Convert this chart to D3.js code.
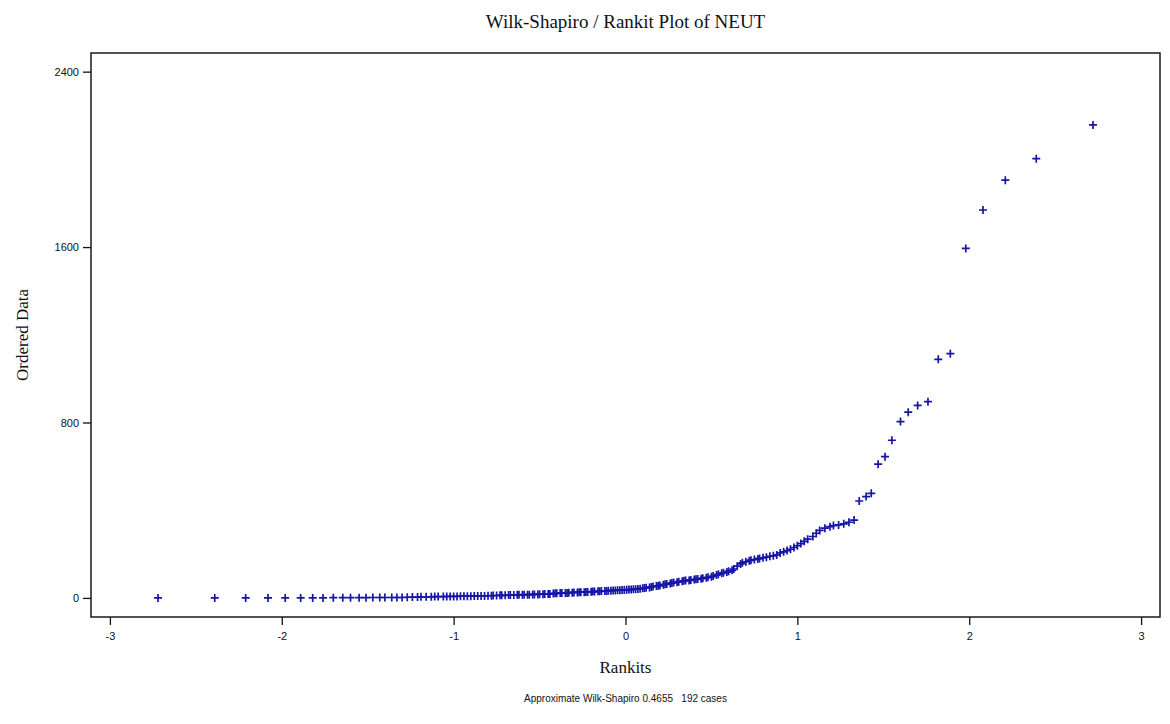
<!DOCTYPE html>
<html>
<head>
<meta charset="utf-8">
<script src="https://cdn.jsdelivr.net/npm/d3@7"></script>
<style>
	body { margin: 0; background: #fff; }
	svg { display: block; }
	.tick text { font-family: "Liberation Sans", Arial, sans-serif; font-size: 11px; fill: #111; }
	.tick line { stroke: #111; stroke-width: 1.3; }
</style>
</head>
<body>
<svg id="chart" width="1170" height="724"></svg>
<script>
// rankits (expected normal scores) for the 192 cases, ascending
const rankits = [
	-2.72, -2.39, -2.21, -2.08, -1.98, -1.89, -1.82, -1.76, -1.70, -1.645,
	-1.60, -1.55, -1.51, -1.47, -1.43, -1.40, -1.36, -1.33, -1.30, -1.27,
	-1.24, -1.21, -1.19, -1.16, -1.13, -1.11, -1.09, -1.06, -1.04, -1.02,
	-1.00, -0.98, -0.96, -0.94, -0.92, -0.90, -0.88, -0.86, -0.84, -0.82,
	-0.80, -0.78, -0.77, -0.75, -0.73, -0.72, -0.70, -0.68, -0.67, -0.65,
	-0.63, -0.62, -0.60, -0.59, -0.57, -0.56, -0.54, -0.53, -0.51, -0.50,
	-0.48, -0.47, -0.45, -0.44, -0.42, -0.41, -0.40, -0.38, -0.37, -0.35,
	-0.34, -0.33, -0.31, -0.30, -0.28, -0.27, -0.26, -0.24, -0.23, -0.22,
	-0.20, -0.19, -0.18, -0.16, -0.15, -0.14, -0.12, -0.11, -0.10, -0.085,
	-0.072, -0.059, -0.046, -0.033, -0.020, -0.007,
	0.007, 0.020, 0.033, 0.046, 0.059, 0.072, 0.085, 0.10, 0.11, 0.12,
	0.14, 0.15, 0.16, 0.18, 0.19, 0.20, 0.22, 0.23, 0.24, 0.26,
	0.27, 0.28, 0.30, 0.31, 0.33, 0.34, 0.35, 0.37, 0.38, 0.40,
	0.41, 0.42, 0.44, 0.45, 0.47, 0.48, 0.50, 0.51, 0.53, 0.54,
	0.56, 0.57, 0.59, 0.60, 0.62, 0.63, 0.65, 0.67, 0.68, 0.70,
	0.72, 0.73, 0.75, 0.77, 0.78, 0.80, 0.82, 0.84, 0.86, 0.88,
	0.90, 0.92, 0.94, 0.96, 0.98, 1.00, 1.02, 1.04, 1.06, 1.09,
	1.11, 1.13, 1.16, 1.19, 1.21, 1.24, 1.27, 1.30, 1.33, 1.36,
	1.40, 1.43, 1.47, 1.51, 1.55, 1.60, 1.645, 1.70, 1.76, 1.82,
	1.89, 1.98, 2.08, 2.21, 2.39, 2.72
];

// ordered NEUT values, same order as rankits
const orderedData = [
	0, 0, 0, 0, 0, 0, 0, 0, 1, 1,
	1, 1, 1, 2, 2, 2, 2, 2, 2, 3,
	4, 4, 5, 5, 5, 6, 6, 6, 7, 7,
	7, 7, 8, 8, 8, 8, 9, 9, 9, 9,
	10, 10, 11, 11, 12, 12, 12, 13, 13, 13,
	14, 14, 14, 15, 15, 15, 16, 16, 16, 17,
	17, 18, 18, 18, 20, 21, 21, 22, 22, 23,
	23, 24, 24, 25, 25, 26, 26, 26, 27, 27,
	28, 29, 29, 30, 30, 31, 32, 32, 33, 33,
	34, 34, 35, 35, 36, 36,
	37, 38, 38, 40, 40, 41, 42, 44, 45, 46,
	48, 50, 52, 54, 55, 57, 60, 62, 64, 66,
	68, 70, 72, 74, 76, 78, 79, 80, 82, 84,
	85, 86, 88, 90, 92, 94, 96, 100, 104, 108,
	112, 115, 118, 122, 126, 132, 145, 155, 160, 165,
	170, 172, 175, 178, 180, 183, 186, 190, 192, 196,
	205, 210, 216, 222, 230, 238, 248, 258, 268, 280,
	295, 308, 318, 325, 330, 333, 338, 345, 355, 442,
	462, 477, 610, 644, 719, 804, 847, 878, 895, 1088,
	1114, 1594, 1769, 1905, 2003, 2157
];

const xTicks = [-3, -2, -1, 0, 1, 2, 3];
const yTicks = [0, 800, 1600, 2400];

const title = "Wilk-Shapiro / Rankit Plot of NEUT";
const xTitle = "Rankits";
const yTitle = "Ordered Data";
const footnote = "Approximate Wilk-Shapiro 0.4655   192 cases";

const plot = { left: 91, top: 53, right: 1160, bottom: 617 };
const markColor = "#1515a8";

const svg = d3.select("#chart");

svg.append("rect")
	.attr("width", 1170)
	.attr("height", 724)
	.attr("fill", "#fff");

const x = d3.scaleLinear()
	.domain([-3.11, 3.11])
	.range([plot.left, plot.right]);

const y = d3.scaleLinear()
	.domain([-87, 2485])
	.range([plot.bottom, plot.top]);

// axes (domain lines replaced by the frame)
const xAxis = svg.append("g")
	.attr("transform", `translate(0,${plot.bottom})`)
	.call(d3.axisBottom(x)
		.tickValues(xTicks)
		.tickSize(8)
		.tickPadding(7)
		.tickFormat(d => String(d)));
xAxis.select(".domain").remove();

const yAxis = svg.append("g")
	.attr("transform", `translate(${plot.left},0)`)
	.call(d3.axisLeft(y)
		.tickValues(yTicks)
		.tickSize(8)
		.tickPadding(4)
		.tickFormat(d => String(d)));
yAxis.select(".domain").remove();

// frame
svg.append("rect")
	.attr("x", plot.left)
	.attr("y", plot.top)
	.attr("width", plot.right - plot.left)
	.attr("height", plot.bottom - plot.top)
	.attr("fill", "none")
	.attr("stroke", "#1a1a1a")
	.attr("stroke-width", 1.5);

// plus markers
const points = rankits.map((r, i) => ({ r: r, v: orderedData[i] }));

svg.append("g")
	.selectAll("path")
	.data(points)
	.join("path")
	.attr("transform", d => `translate(${x(d.r)},${y(d.v)})`)
	.attr("d", "M-4,0H4M0,-4V4")
	.attr("stroke", markColor)
	.attr("stroke-width", 1.7)
	.attr("fill", "none");

// texts
const midX = (plot.left + plot.right) / 2;

svg.append("text")
	.attr("x", midX)
	.attr("y", 28)
	.attr("text-anchor", "middle")
	.attr("font-family", "'Liberation Serif', 'Times New Roman', serif")
	.attr("font-size", 19)
	.attr("fill", "#111")
	.text(title);

svg.append("text")
	.attr("transform", `translate(28,${(plot.top + plot.bottom) / 2}) rotate(-90)`)
	.attr("text-anchor", "middle")
	.attr("font-family", "'Liberation Serif', 'Times New Roman', serif")
	.attr("font-size", 17)
	.attr("fill", "#111")
	.text(yTitle);

svg.append("text")
	.attr("x", midX)
	.attr("y", 673)
	.attr("text-anchor", "middle")
	.attr("font-family", "'Liberation Serif', 'Times New Roman', serif")
	.attr("font-size", 17)
	.attr("fill", "#111")
	.text(xTitle);

svg.append("text")
	.attr("x", midX)
	.attr("y", 702)
	.attr("text-anchor", "middle")
	.attr("font-family", "'Liberation Sans', Arial, sans-serif")
	.attr("font-size", 10)
	.attr("fill", "#111")
	.attr("xml:space", "preserve")
	.style("white-space", "pre")
	.text(footnote);
</script>
</body>
</html>
